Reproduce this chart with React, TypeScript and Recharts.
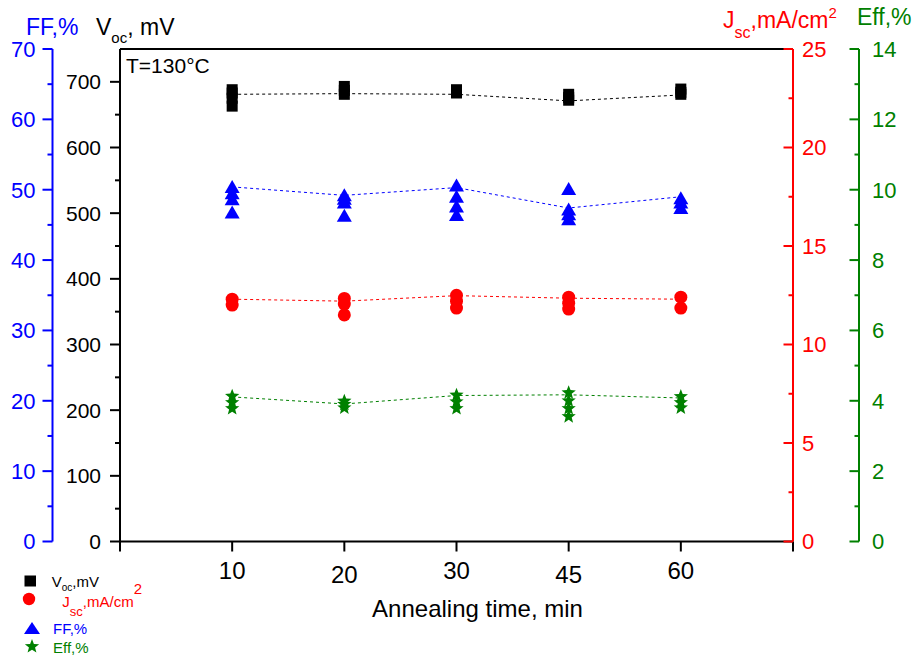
import React from 'react';
import { ComposedChart, Scatter, Line, XAxis, YAxis, ReferenceLine, Legend, Label } from 'recharts';

const FONT = '"Liberation Sans", Arial, sans-serif';

// ---- data ----
const categories = ['10', '20', '30', '45', '60'];

const vocPoints = [
  [688, 683, 675, 663],
  [693, 687, 681],
  [688, 683],
  [681, 676, 672],
  [689, 684, 681],
];
const vocTrend = [681, 682, 681, 671, 680];

const jscPoints = [
  [12.3, 12.0],
  [12.34, 12.05, 11.5],
  [12.5, 12.2, 11.85],
  [12.4, 12.1, 11.8],
  [12.4, 11.85],
];
const jscTrend = [12.3, 12.2, 12.48, 12.35, 12.3];

const ffPoints = [
  [50.4, 49.5, 48.65, 46.75],
  [49.2, 48.7, 48.2, 46.3],
  [50.6, 49.0, 47.6, 46.4],
  [50.1, 47.2, 46.5, 45.8],
  [48.8, 48.2, 47.4],
];
const ffTrend = [50.4, 49.2, 50.3, 47.4, 49.0];

const effPoints = [
  [4.13, 3.95, 3.78],
  [3.99, 3.9, 3.8],
  [4.16, 3.97, 3.78],
  [4.23, 4.0, 3.78, 3.55],
  [4.12, 3.95, 3.8],
];
const effTrend = [4.11, 3.91, 4.15, 4.17, 4.08];

const xTicks = [0, 1, 2, 3, 4, 5, 6];
const vocTicks = Array.from({ length: 15 }, (_, i) => i * 50); // 0..700
const ffTicks = Array.from({ length: 15 }, (_, i) => i * 5); // 0..70
const jscTicks = Array.from({ length: 11 }, (_, i) => i * 2.5); // 0..25
const effTicks = Array.from({ length: 15 }, (_, i) => i); // 0..14

// axis ids (inner axes sort first)
const VOC = 'a_voc';
const FF = 'b_ff';
const JSC = 'a_jsc';
const EFF = 'b_eff';

// ---- helpers ----
const toScatter = (pts: number[][]) =>
  pts.flatMap((vals, i) => vals.map((v) => ({ x: i + 1, y: v })));
const toTrend = (vals: number[]) => vals.map((v, i) => ({ x: i + 1, y: v }));

const BLACK = '#000000';
const BLUE = '#0000FF';
const RED = '#FF0000';
const GREEN = '#008000';

const makeYTick =
  (color: string, majorStep: number, gap: number, anchor: 'start' | 'end', majorLen: number, minorLen: number, fontSize: number) =>
  (props: any) => {
    const { x, y, payload } = props;
    const v = payload.value as number;
    const r = v / majorStep;
    const major = Math.abs(r - Math.round(r)) < 1e-6;
    const len = major ? majorLen : minorLen;
    return (
      <g>
        <line x1={x} x2={x - len} y1={y} y2={y} stroke={color} strokeWidth={2} />
        {major && (
          <text
            x={anchor === 'end' ? x - gap : x + gap}
            y={y}
            dy="0.36em"
            textAnchor={anchor}
            fill={color}
            fontSize={fontSize}
            fontFamily={FONT}
          >
            {v}
          </text>
        )}
      </g>
    );
  };

const X_LABEL_DY = [0, 0, 3.5, 0, 3.5, 0, 0];
const XTick = (props: any) => {
  const { x, y, payload } = props;
  const v = payload.value as number;
  const label = categories[v - 1];
  return (
    <g>
      <line x1={x} x2={x} y1={y} y2={y + 10} stroke={BLACK} strokeWidth={2} />
      {label && (
        <text x={x} y={y + 37.5 + X_LABEL_DY[v]} textAnchor="middle" fontSize={24} fontFamily={FONT} fill={BLACK}>
          {label}
        </text>
      )}
    </g>
  );
};

const starPath = (cx: number, cy: number, R: number, r: number) => {
  let d = '';
  for (let i = 0; i < 10; i++) {
    const a = -Math.PI / 2 + (i * Math.PI) / 5;
    const rad = i % 2 === 0 ? R : r;
    d += (i === 0 ? 'M' : 'L') + (cx + rad * Math.cos(a)).toFixed(2) + ',' + (cy + rad * Math.sin(a)).toFixed(2);
  }
  return d + 'Z';
};

const SquareShape = (p: any) => <rect x={p.cx - 5.5} y={p.cy - 5.5} width={11} height={11} fill={BLACK} />;
const CircleShape = (p: any) => <circle cx={p.cx} cy={p.cy} r={6.5} fill={RED} />;
const TriangleShape = (p: any) => (
  <path d={`M${p.cx},${p.cy - 7} L${p.cx + 7.5},${p.cy + 6} L${p.cx - 7.5},${p.cy + 6} Z`} fill={BLUE} />
);
const StarShape = (p: any) => <path d={starPath(p.cx, p.cy, 7.5, 3.2)} fill={GREEN} />;

const LegendBox = () => (
  <svg width={200} height={99} style={{ display: 'block' }} fontFamily={FONT}>
    <rect x={24.5} y={15.5} width={11.5} height={11} fill={BLACK} />
    <text x={51.7} y={26.7} fontSize={15} fill={BLACK}>
      V<tspan fontSize={10} dy={4}>oc</tspan>
      <tspan dy={-4}>,mV</tspan>
    </text>
    <circle cx={29} cy={39} r={6.2} fill={RED} />
    <text x={62.3} y={46.7} fontSize={15} fill={RED}>
      J<tspan fontSize={13} dy={9}>sc</tspan>
      <tspan dy={-9}>,mA/cm</tspan>
      <tspan fontSize={15} dy={-13}>2</tspan>
    </text>
    <path d="M32,62 L40,74 L24,74 Z" fill={BLUE} />
    <text x={53} y={74} fontSize={15} fill={BLUE}>FF,%</text>
    <path d={starPath(32, 86.5, 7.5, 3.2)} fill={GREEN} />
    <text x={53} y={93.3} fontSize={15} fill={GREEN}>Eff,%</text>
  </svg>
);

const FFTitle = (p: any) => {
  const vb = p.viewBox;
  return (
    <text x={vb.x + 26} y={vb.y - 14} fontSize={23} fill={BLUE} fontFamily={FONT}>
      FF,%
    </text>
  );
};
const VocTitle = (p: any) => {
  const vb = p.viewBox;
  return (
    <text x={vb.x + 43.5} y={vb.y - 14} fontSize={23} fill={BLACK} fontFamily={FONT}>
      V<tspan fontSize={15} dy={8}>oc</tspan>
      <tspan dy={-8}>, mV</tspan>
    </text>
  );
};
const JscTitle = (p: any) => {
  const vb = p.viewBox;
  return (
    <text x={vb.x - 70} y={vb.y - 21} fontSize={23} fill={RED} fontFamily={FONT}>
      J<tspan fontSize={16} dy={10}>sc</tspan>
      <tspan dy={-10}>,mA/cm</tspan>
      <tspan fontSize={15} dy={-10}>2</tspan>
    </text>
  );
};
const EffTitle = (p: any) => {
  const vb = p.viewBox;
  return (
    <text x={vb.x - 2} y={vb.y - 24} fontSize={23} fill={GREEN} fontFamily={FONT}>
      Eff,%
    </text>
  );
};
const XTitle = (p: any) => {
  const vb = p.viewBox;
  return (
    <text x={vb.x + vb.width / 2 + 21} y={vb.y + 75} fontSize={24} textAnchor="middle" fill={BLACK} fontFamily={FONT}>
      Annealing time, min
    </text>
  );
};
const TempLabel = (p: any) => {
  const vb = p.viewBox;
  return (
    <text x={vb.x + 6} y={vb.y + 24} fontSize={21} fill={BLACK} fontFamily={FONT}>
      T=130°C
    </text>
  );
};

export default function App() {
  return (
    <div style={{ position: 'absolute', left: 0, top: 0, width: 915, height: 659, background: '#fff' }}>
      <ComposedChart width={915} height={659} margin={{ top: 49, right: 0, bottom: 87.5, left: 0 }}>
        <XAxis
          dataKey="x"
          type="number"
          domain={[0, 6]}
          ticks={xTicks}
          interval={0}
          tickSize={0}
          tickMargin={0}
          height={30}
          axisLine={{ stroke: BLACK, strokeWidth: 2 }}
          tickLine={false}
          tick={<XTick />}
        >
          <Label content={<XTitle />} />
        </XAxis>
        <YAxis
          yAxisId={VOC}
          orientation="left"
          width={67.5}
          type="number"
          domain={[0, 750]}
          ticks={vocTicks}
          interval={0}
          tickSize={0}
          tickMargin={0}
          axisLine={{ stroke: BLACK, strokeWidth: 2 }}
          tickLine={false}
          tick={makeYTick(BLACK, 100, 19, 'end', 10, 5, 21)}
        >
          <Label content={<VocTitle />} />
        </YAxis>
        <YAxis
          yAxisId={FF}
          orientation="left"
          width={52.5}
          type="number"
          domain={[0, 70]}
          ticks={ffTicks}
          interval={0}
          tickSize={0}
          tickMargin={0}
          axisLine={{ stroke: BLUE, strokeWidth: 2 }}
          tickLine={false}
          tick={makeYTick(BLUE, 10, 17, 'end', 10, 5, 22)}
        >
          <Label content={<FFTitle />} />
        </YAxis>
        <YAxis
          yAxisId={JSC}
          orientation="right"
          width={66}
          type="number"
          domain={[0, 25]}
          ticks={jscTicks}
          interval={0}
          tickSize={0}
          tickMargin={0}
          axisLine={{ stroke: RED, strokeWidth: 2 }}
          tickLine={false}
          tick={makeYTick(RED, 5, 9, 'start', 9.5, 4.5, 22)}
        >
          <Label content={<JscTitle />} />
        </YAxis>
        <YAxis
          yAxisId={EFF}
          orientation="right"
          width={56}
          type="number"
          domain={[0, 14]}
          ticks={effTicks}
          interval={0}
          tickSize={0}
          tickMargin={0}
          axisLine={{ stroke: GREEN, strokeWidth: 2 }}
          tickLine={false}
          tick={makeYTick(GREEN, 2, 13, 'start', 9.5, 4.5, 22)}
        >
          <Label content={<EffTitle />} />
        </YAxis>

        <ReferenceLine yAxisId={VOC} y={750} stroke={BLACK} strokeWidth={2}>
          <Label content={<TempLabel />} />
        </ReferenceLine>

        <Line data={toTrend(vocTrend)} dataKey="y" yAxisId={VOC} type="linear" stroke={BLACK} strokeWidth={1} strokeDasharray="3 3" dot={false} activeDot={false} isAnimationActive={false} />
        <Line data={toTrend(ffTrend)} dataKey="y" yAxisId={FF} type="linear" stroke={BLUE} strokeWidth={1} strokeDasharray="3 3" dot={false} activeDot={false} isAnimationActive={false} />
        <Line data={toTrend(jscTrend)} dataKey="y" yAxisId={JSC} type="linear" stroke={RED} strokeWidth={1} strokeDasharray="3 3" dot={false} activeDot={false} isAnimationActive={false} />
        <Line data={toTrend(effTrend)} dataKey="y" yAxisId={EFF} type="linear" stroke={GREEN} strokeWidth={1} strokeDasharray="3 3" dot={false} activeDot={false} isAnimationActive={false} />

        <Scatter data={toScatter(vocPoints)} dataKey="y" yAxisId={VOC} shape={SquareShape} isAnimationActive={false} />
        <Scatter data={toScatter(jscPoints)} dataKey="y" yAxisId={JSC} shape={CircleShape} isAnimationActive={false} />
        <Scatter data={toScatter(ffPoints)} dataKey="y" yAxisId={FF} shape={TriangleShape} isAnimationActive={false} />
        <Scatter data={toScatter(effPoints)} dataKey="y" yAxisId={EFF} shape={StarShape} isAnimationActive={false} />

        <Legend
          layout="vertical"
          align="center"
          verticalAlign="middle"
          content={() => <LegendBox />}
          wrapperStyle={{ left: 0, top: 560, width: 200, height: 99 }}
        />
      </ComposedChart>
    </div>
  );
}
